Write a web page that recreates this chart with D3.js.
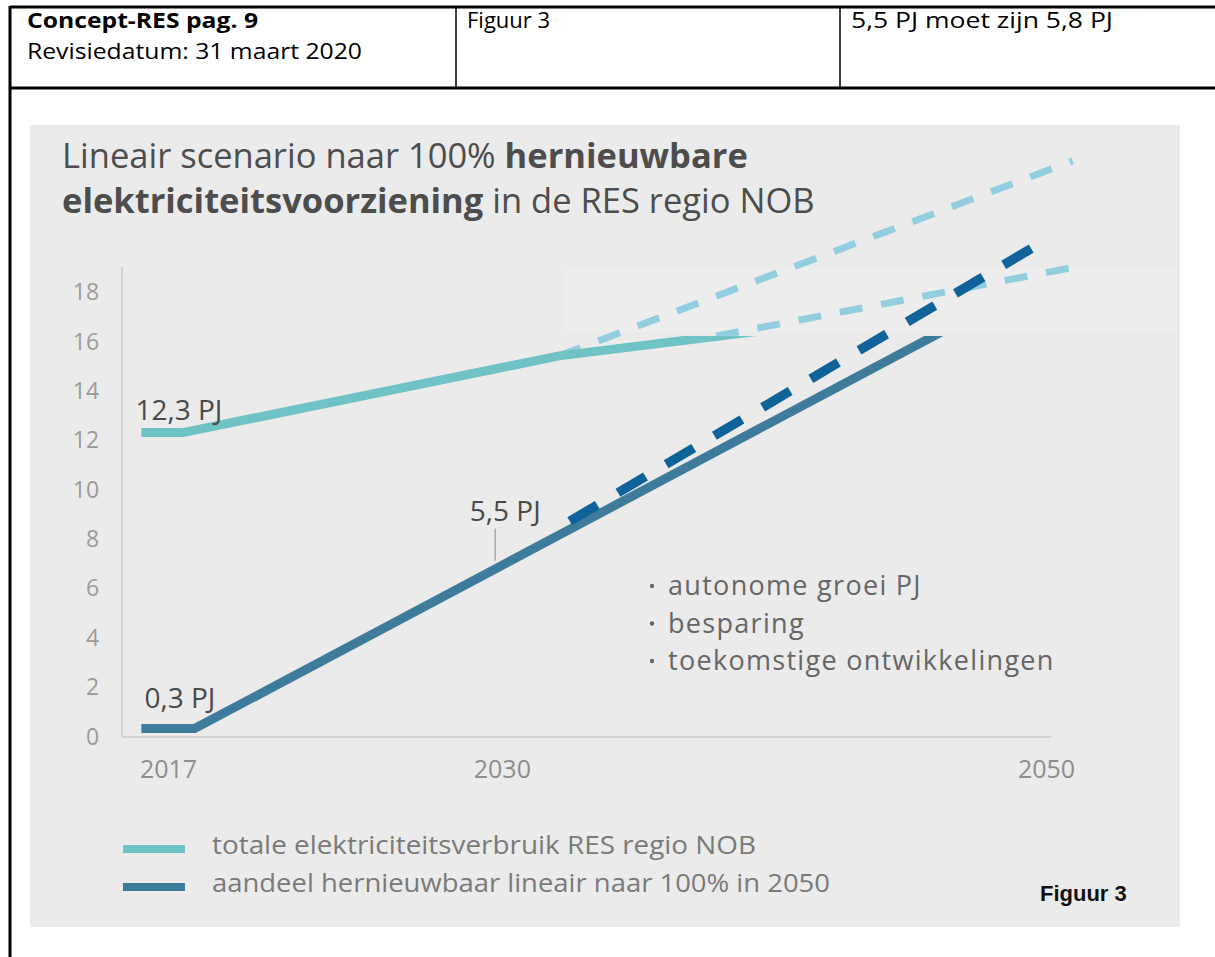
<!DOCTYPE html>
<html>
<head>
<meta charset="utf-8">
<script src="https://cdn.jsdelivr.net/npm/d3@7"></script>
<style>
  html, body { margin: 0; padding: 0; background: #fff; }
  svg { display: block; }
</style>
</head>
<body>
<svg id="chart" width="1215" height="957"></svg>
<script>
// header table texts
const headerLeft = ['Concept-RES pag. 9', 'Revisiedatum: 31 maart 2020']
const headerMid = 'Figuur 3'
const headerRight = '5,5 PJ moet zijn 5,8 PJ'

// axis ticks
const yearTicks = [2017, 2030, 2050]
const valueTicks = [0, 2, 4, 6, 8, 10, 12, 14, 16, 18]

// totale elektriciteitsverbruik (solid), then two dashed projections
const totalYears = [2016.0, 2017.6, 2031.7, 2039.2]
const totalValues = [12.3, 12.3, 15.4, 16.4]
const totalHighYears = [2031.7, 2051.0]
const totalHighValues = [15.4, 23.3]
const totalLowYears = [2037.6, 2051.1]
const totalLowValues = [16.2, 19.0]

// aandeel hernieuwbaar (solid) and dashed projection
const shareYears = [2016.0, 2018.0, 2047.0]
const shareValues = [0.3, 0.3, 16.9]
const shareDashYears = [2032.1, 2050.0]
const shareDashValues = [8.7, 20.1]

// annotations
const labelTotal = '12,3 PJ'
const labelShareStart = '0,3 PJ'
const labelShare2030 = '5,5 PJ'
const bullets = ['autonome groei PJ', 'besparing', 'toekomstige ontwikkelingen']
const legendItems = ['totale elektriciteitsverbruik RES regio NOB', 'aandeel hernieuwbaar lineair naar 100% in 2050']

const C_TOTAL = '#6fc3c6'
const C_TOTAL_DASH = '#93cde0'
const C_SHARE = '#3f7b9b'
const C_SHARE_DASH = '#0f6398'
const FONT = "'Open Sans', 'Noto Sans', sans-serif"

const svg = d3.select('#chart')

// ---- header table ----
const hdr = svg.append('g').attr('font-family', FONT).attr('fill', '#000')
hdr.append('line').attr('x1', 10).attr('x2', 1215).attr('y1', 7).attr('y2', 7).attr('stroke', '#000').attr('stroke-width', 3)
hdr.append('line').attr('x1', 10).attr('x2', 1215).attr('y1', 88).attr('y2', 88).attr('stroke', '#000').attr('stroke-width', 3)
hdr.append('line').attr('x1', 10).attr('x2', 10).attr('y1', 6).attr('y2', 957).attr('stroke', '#000').attr('stroke-width', 3)
;[456, 840].forEach(x => {
  hdr.append('line').attr('x1', x).attr('x2', x).attr('y1', 7).attr('y2', 88).attr('stroke', '#000').attr('stroke-width', 1.5)
})
hdr.append('text').attr('x', 27).attr('y', 28).attr('font-size', 22).attr('font-weight', 'bold')
  .attr('textLength', 231).attr('lengthAdjust', 'spacingAndGlyphs').text(headerLeft[0])
hdr.append('text').attr('x', 27).attr('y', 59).attr('font-size', 22)
  .attr('textLength', 335).attr('lengthAdjust', 'spacingAndGlyphs').text(headerLeft[1])
hdr.append('text').attr('x', 467).attr('y', 28).attr('font-size', 22).text(headerMid)
hdr.append('text').attr('x', 851).attr('y', 28).attr('font-size', 22)
  .attr('textLength', 262).attr('lengthAdjust', 'spacingAndGlyphs').text(headerRight)

// ---- grey panel ----
svg.append('rect').attr('x', 30).attr('y', 125).attr('width', 1150).attr('height', 802).attr('fill', '#ebebeb')
svg.append('rect').attr('x', 565).attr('y', 268).attr('width', 610).attr('height', 64).attr('fill', '#ededed')

// title
const title = svg.append('text').attr('font-family', FONT).attr('font-size', 34.5).attr('fill', '#4d4d4d')
const t1 = title.append('tspan').attr('x', 62).attr('y', 168)
t1.append('tspan').text('Lineair scenario naar 100% ')
t1.append('tspan').attr('font-weight', 'bold').text('hernieuwbare')
const t2 = title.append('tspan').attr('x', 62).attr('y', 213)
t2.append('tspan').attr('font-weight', 'bold').text('elektriciteitsvoorziening')
t2.append('tspan').text(' in de RES regio NOB')

// ---- scales ----
const x = d3.scaleLinear().domain([2017, 2050]).range([168, 1046])
const y = d3.scaleLinear().domain([0, 19]).range([736, 267])
const axisX0 = x(2016.1) - 22

// axes
const yAxis = svg.append('g')
  .attr('transform', `translate(${axisX0},0)`)
  .call(d3.axisLeft(y).tickValues(valueTicks).tickSize(0).tickPadding(0))
yAxis.select('.domain').remove()
yAxis.selectAll('text')
  .attr('font-family', FONT).attr('font-size', 23).attr('fill', '#9b9b9b').attr('dy', '0.35em')
  .attr('x', 0).attr('dx', -23)

const xAxis = svg.append('g')
  .attr('transform', `translate(0,${y(0)})`)
  .call(d3.axisBottom(x).tickValues(yearTicks).tickFormat(d3.format('d')).tickSize(0).tickPadding(24))
xAxis.select('.domain').remove()
xAxis.selectAll('text').attr('font-family', FONT).attr('font-size', 25).attr('fill', '#8e8e8e')
xAxis.selectAll('.tick').filter(d => d === 2030).select('text').attr('dx', -12)

svg.append('line').attr('x1', axisX0).attr('x2', axisX0).attr('y1', y(19)).attr('y2', y(0) + 1)
  .attr('stroke', '#d2d2d2').attr('stroke-width', 2)
svg.append('line').attr('x1', axisX0).attr('x2', x(2050.2)).attr('y1', y(0) + 1).attr('y2', y(0) + 1)
  .attr('stroke', '#d2d2d2').attr('stroke-width', 2)

// ---- lines ----
const line = d3.line().x(d => x(d[0])).y(d => y(d[1]))
const zip = (a, b) => a.map((v, i) => [v, b[i]])

svg.append('clipPath').attr('id', 'solidClip')
  .append('rect').attr('x', 0).attr('y', y(16.2)).attr('width', 1215).attr('height', 957)

svg.append('path').datum(zip(totalHighYears, totalHighValues)).attr('d', line)
  .attr('fill', 'none').attr('stroke', C_TOTAL_DASH).attr('stroke-width', 7).attr('stroke-dasharray', '23 19')
svg.append('path').datum(zip(totalLowYears, totalLowValues)).attr('d', line)
  .attr('fill', 'none').attr('stroke', C_TOTAL_DASH).attr('stroke-width', 7).attr('stroke-dasharray', '23 19')

svg.append('path').datum(zip(totalYears, totalValues)).attr('d', line).attr('clip-path', 'url(#solidClip)')
  .attr('fill', 'none').attr('stroke', C_TOTAL).attr('stroke-width', 9).attr('stroke-linejoin', 'round')
svg.append('path').datum(zip(shareYears, shareValues)).attr('d', line).attr('clip-path', 'url(#solidClip)')
  .attr('fill', 'none').attr('stroke', C_SHARE).attr('stroke-width', 9).attr('stroke-linejoin', 'round')

svg.append('path').datum(zip(shareDashYears, shareDashValues)).attr('d', line)
  .attr('fill', 'none').attr('stroke', C_SHARE_DASH).attr('stroke-width', 9.5).attr('stroke-dasharray', '32 24')

// ---- annotations ----
const ann = svg.append('g').attr('font-family', FONT).attr('font-size', 28).attr('fill', '#4a4a4a')
ann.append('text').attr('x', x(2016.0) - 6).attr('y', y(12.3) - 12).text(labelTotal)
ann.append('text').attr('x', x(2016.0) + 3).attr('y', y(0.3) - 21).text(labelShareStart)
ann.append('text').attr('x', x(2029.3) + 10).attr('y', y(6.7) - 50).attr('text-anchor', 'middle').text(labelShare2030)
svg.append('line').attr('x1', x(2029.3)).attr('x2', x(2029.3)).attr('y1', y(6.7) - 42).attr('y2', y(6.7) - 10)
  .attr('stroke', '#aaaaaa').attr('stroke-width', 1.5)

const bl = svg.append('g').attr('font-family', FONT).attr('font-size', 27).attr('fill', '#666')
  .attr('letter-spacing', 1.3)
bullets.forEach((b, i) => {
  bl.append('circle').attr('cx', 652).attr('cy', 586 + i * 37.5).attr('r', 2.2).attr('fill', '#666')
  bl.append('text').attr('x', 668).attr('y', 595 + i * 37.5).text(b)
})

// ---- legend ----
const lg = svg.append('g').attr('font-family', FONT).attr('font-size', 25).attr('fill', '#7a7a7a')
const legendWidths = [544, 618]
;[C_TOTAL, C_SHARE].forEach((c, i) => {
  lg.append('rect').attr('x', 123).attr('y', 845 + i * 38).attr('width', 62).attr('height', 8).attr('fill', c)
  lg.append('text').attr('x', 212).attr('y', 854 + i * 38)
    .attr('textLength', legendWidths[i]).attr('lengthAdjust', 'spacingAndGlyphs').text(legendItems[i])
})
svg.append('text').attr('x', 1040).attr('y', 901).attr('font-family', "'Liberation Sans', Arial, sans-serif")
  .attr('font-size', 22).attr('font-weight', 'bold').attr('fill', '#111').text('Figuur 3')
</script>
</body>
</html>
